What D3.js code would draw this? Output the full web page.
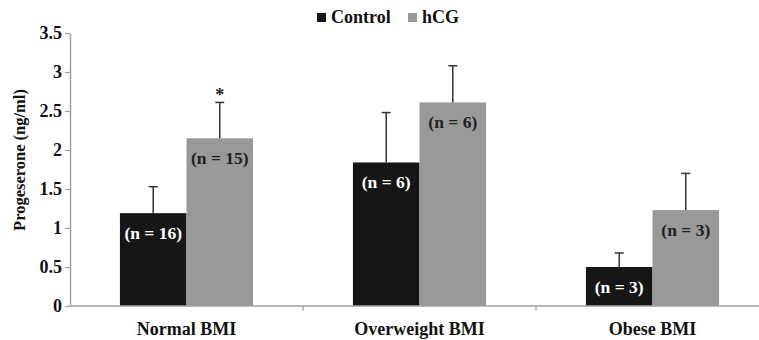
<!DOCTYPE html>
<html>
<head>
<meta charset="utf-8">
<script src="https://cdn.jsdelivr.net/npm/d3@7/dist/d3.min.js"></script>
<style>
  body { margin: 0; background: #fff; }
  svg text { font-family: "Liberation Serif", "Times New Roman", serif; font-weight: 700; }
</style>
</head>
<body>
<div id="chart"></div>
<script>
// data
var categories = ["Normal BMI", "Overweight BMI", "Obese BMI"];
var series = ["Control", "hCG"];
var controlMeans = [1.19, 1.84, 0.50];
var hcgMeans = [2.15, 2.61, 1.23];
var controlErr = [0.34, 0.64, 0.18];
var hcgErr = [0.46, 0.47, 0.47];
var controlN = ["(n = 16)", "(n = 6)", "(n = 3)"];
var hcgN = ["(n = 15)", "(n = 6)", "(n = 3)"];
var significant = [true, false, false]; // star over hCG bar
var yTicks = [0, 0.5, 1, 1.5, 2, 2.5, 3, 3.5];

var width = 759, height = 340;
var colors = { Control: "#161616", hCG: "#999999" };
var axisColor = "#a0a0a0";

var rows = categories.map(function (c, i) {
  return {
    cat: c,
    bars: [
      { s: "Control", v: controlMeans[i], e: controlErr[i], n: controlN[i], star: false },
      { s: "hCG", v: hcgMeans[i], e: hcgErr[i], n: hcgN[i], star: significant[i] }
    ]
  };
});

var svg = d3.select("#chart").append("svg")
  .attr("width", width).attr("height", height);

var x0 = d3.scaleBand().domain(categories).range([70, 769]).padding(0);
var x1 = d3.scaleBand().domain(series).range([0, x0.bandwidth()]).paddingInner(0).paddingOuter(0.75);
var y = d3.scaleLinear().domain([0, 3.5]).range([306, 33]);

// y axis
var yAxis = svg.append("g")
  .attr("transform", "translate(70,0)")
  .call(d3.axisLeft(y).tickValues(yTicks).tickFormat(function (d) { return String(d); })
    .tickSize(5).tickSizeOuter(0));
yAxis.attr("font-family", null).attr("font-size", null);
yAxis.select(".domain").attr("stroke", axisColor).attr("stroke-width", 1.5);
yAxis.selectAll(".tick line").attr("stroke", axisColor).attr("stroke-width", 1.2);
yAxis.selectAll(".tick text")
  .attr("fill", "#111").attr("x", -8)
  .style("font-size", "18px");

svg.append("text")
  .attr("transform", "translate(25,160) rotate(-90)")
  .attr("text-anchor", "middle")
  .style("font-size", "16.5px")
  .attr("fill", "#111")
  .text("Progeserone (ng/ml)");

// bars
var groups = svg.selectAll(".cat").data(rows).enter().append("g")
  .attr("class", "cat")
  .attr("transform", function (d) { return "translate(" + x0(d.cat) + ",0)"; });

var bar = groups.selectAll(".bar").data(function (d) { return d.bars; }).enter().append("g")
  .attr("class", "bar");

bar.append("rect")
  .attr("x", function (d) { return x1(d.s); })
  .attr("y", function (d) { return y(d.v); })
  .attr("width", x1.bandwidth())
  .attr("height", function (d) { return y(0) - y(d.v); })
  .attr("fill", function (d) { return colors[d.s]; });

// error bars (upper only)
var ex = function (d) { return x1(d.s) + x1.bandwidth() / 2; };
bar.append("line")
  .attr("x1", ex).attr("x2", ex)
  .attr("y1", function (d) { return y(d.v); })
  .attr("y2", function (d) { return y(d.v + d.e); })
  .attr("stroke", "#333").attr("stroke-width", 1.5);
bar.append("line")
  .attr("x1", function (d) { return ex(d) - 4.5; })
  .attr("x2", function (d) { return ex(d) + 4.5; })
  .attr("y1", function (d) { return y(d.v + d.e); })
  .attr("y2", function (d) { return y(d.v + d.e); })
  .attr("stroke", "#333").attr("stroke-width", 1.5);

bar.filter(function (d) { return d.star; }).append("text")
  .attr("x", ex)
  .attr("y", function (d) { return y(d.v + d.e) - 1; })
  .attr("text-anchor", "middle")
  .style("font-size", "18px")
  .attr("fill", "#222")
  .text("*");

// n labels
bar.append("text")
  .attr("x", ex)
  .attr("y", function (d) { return y(d.v) + 26; })
  .attr("text-anchor", "middle")
  .style("font-size", "17.5px")
  .attr("fill", function (d) { return d.s === "Control" ? "#fff" : "#222"; })
  .text(function (d) { return d.n; });

// x axis
svg.append("line")
  .attr("x1", 70).attr("x2", 769).attr("y1", y(0)).attr("y2", y(0))
  .attr("stroke", axisColor).attr("stroke-width", 1.5);
svg.selectAll(".xtick").data(categories.slice(1)).enter().append("line")
  .attr("x1", function (d) { return x0(d); }).attr("x2", function (d) { return x0(d); })
  .attr("y1", y(0)).attr("y2", y(0) + 5)
  .attr("stroke", axisColor).attr("stroke-width", 1.2);
svg.selectAll(".xlab").data(categories).enter().append("text")
  .attr("x", function (d) { return x0(d) + x0.bandwidth() / 2; })
  .attr("y", 335)
  .attr("text-anchor", "middle")
  .style("font-size", "18px")
  .attr("fill", "#111")
  .text(function (d) { return d; });

// legend
var legend = svg.append("g").attr("transform", "translate(317,10)");
var legX = [0, 91];
series.forEach(function (s, i) {
  var g = legend.append("g").attr("transform", "translate(" + legX[i] + ",0)");
  g.append("rect").attr("width", 9).attr("height", 9).attr("y", 3).attr("fill", colors[s]);
  g.append("text").attr("x", 14).attr("y", 13).style("font-size", "18px").attr("fill", "#111").text(s);
});
</script>
</body>
</html>
